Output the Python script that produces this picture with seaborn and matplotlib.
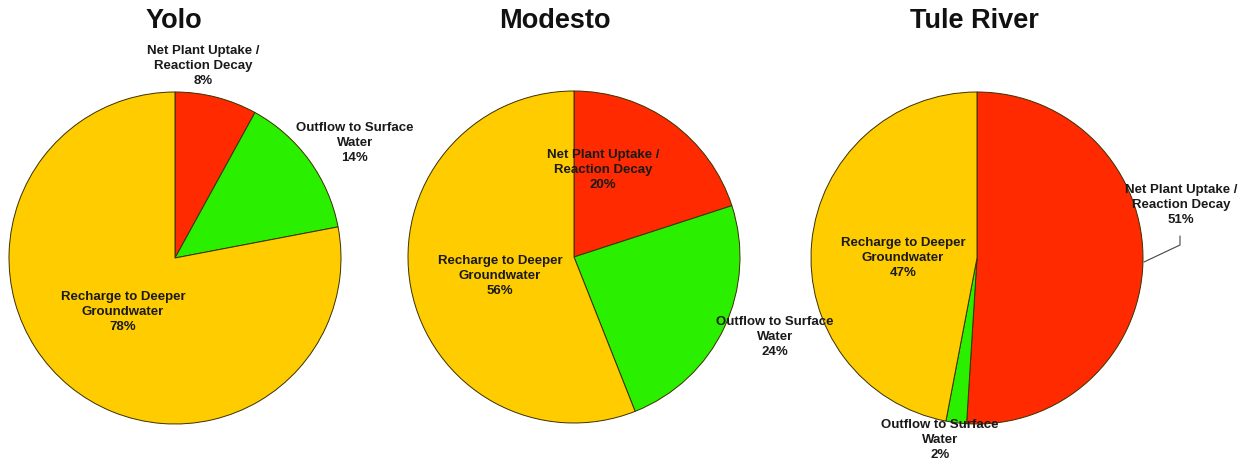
import matplotlib
matplotlib.use("Agg")
import matplotlib.pyplot as plt
import seaborn as sns

sns.set_theme(style="white")
plt.rcParams["font.family"] = ["Liberation Sans", "DejaVu Sans"]

# Nitrogen fate shares (%) per study area
sites = ["Yolo", "Modesto", "Tule River"]
categories = ["Net Plant Uptake /\nReaction Decay",
              "Outflow to Surface\nWater",
              "Recharge to Deeper\nGroundwater"]
yolo_pct = [8, 14, 78]
modesto_pct = [20, 24, 56]
tule_pct = [51, 2, 47]
site_values = [yolo_pct, modesto_pct, tule_pct]

colors = ["#FF2A00", "#2AF000", "#FFCC00"]

# layout in pixel space (y measured from top)
W, H = 1247, 466
centers = [(175, 258), (574, 257), (977, 258)]
radius = 166
title_pos = [(174, 21), (555, 21), (974, 21)]
label_offsets = [
    [(28, -192), (180, -115), (-52, 54)],
    [(29, -87), (201, 80), (-74, 19)],
    [(204, -53), (-37, 182), (-74, 0)],
]

fig = plt.figure(figsize=(W / 100, H / 100), dpi=100)
ax = fig.add_axes([0, 0, 1, 1])

for site, vals, (cx, cy), (tx, ty), offs in zip(sites, site_values, centers,
                                                 title_pos, label_offsets):
    ax.pie(vals, colors=colors, startangle=90, counterclock=False,
           center=(cx, H - cy), radius=radius, frame=True,
           wedgeprops=dict(edgecolor="#3a3000", linewidth=0.7))
    ax.text(tx, H - ty, site, ha="center", va="center",
            fontsize=19.5, fontweight="bold", color="#111111")
    for cat, v, (dx, dy) in zip(categories, vals, offs):
        ax.text(cx + dx, H - (cy + dy), f"{cat}\n{v}%", ha="center",
                va="center", fontsize=9.5, fontweight="bold",
                color="#1a1a1a", linespacing=1.3)

# leader line for the Tule River uptake label
ax.plot([1144, 1180, 1180], [H - 262, H - 245, H - 236],
        color="#444444", linewidth=0.8)

ax.set_xlim(0, W)
ax.set_ylim(0, H)
ax.set_aspect("equal")
ax.axis("off")
fig.savefig("out.png", dpi=100, facecolor="white")
